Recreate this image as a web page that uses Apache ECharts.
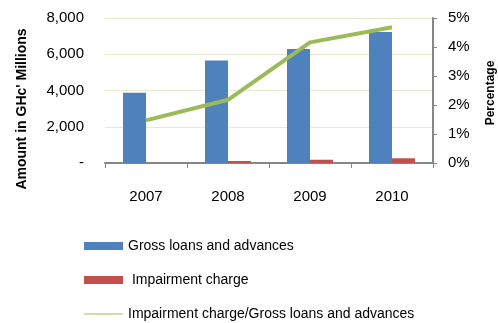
<!DOCTYPE html>
<html>
<head>
<meta charset="utf-8">
<script src="https://cdn.jsdelivr.net/npm/echarts@6/dist/echarts.min.js"></script>
<style>html,body{margin:0;padding:0;background:#fff}#c{width:498px;height:323px}</style>
</head>
<body>
<div id="c"></div>
<script>
var categories = ['2007', '2008', '2009', '2010'];
var grossLoans = [3880, 5650, 6290, 7230];
var impairment = [null, 110, 180, 260];
var ratio = [0.0147, 0.0218, 0.0416, 0.0468];
var leftTicks = ['-', '2,000', '4,000', '6,000', '8,000'];

var chart = echarts.init(document.getElementById('c'), null, {renderer: 'canvas'});
var FONT = 'Liberation Sans';
chart.setOption({
  animation: false,
  textStyle: {fontFamily: FONT},
  grid: {left: 105, right: 65, top: 18, bottom: 160, containLabel: false},
  legend: {
    orient: 'vertical', left: 84, top: 239, height: 120, padding: 0,
    itemWidth: 39, itemHeight: 8, itemGap: 20,
    textStyle: {fontFamily: FONT, fontSize: 14, color: '#000'},
    data: [
      {name: 'Gross loans and advances', icon: 'rect'},
      {name: ' Impairment charge', icon: 'rect'},
      {name: 'Impairment charge/Gross loans and advances', icon: 'path://M0,0 L39,0 L39,1 L0,1 Z'}
    ]
  },
  xAxis: {
    type: 'category', data: categories, boundaryGap: true,
    axisLine: {lineStyle: {color: '#868686', width: 2}},
    axisTick: {show: true, alignWithLabel: false, length: 5, lineStyle: {color: '#868686', width: 1}},
    axisLabel: {color: '#000', fontSize: 15, margin: 26, fontFamily: FONT}
  },
  yAxis: [
    {
      type: 'value', min: 0, max: 8000, interval: 2000,
      axisLine: {show: false}, axisTick: {show: false},
      splitLine: {lineStyle: {color: '#e6ebcf', width: 1}},
      axisLabel: {color: '#000', fontSize: 15, margin: 21, fontFamily: FONT,
        formatter: function (v) { return leftTicks[Math.round(v / 2000)]; }}
    },
    {
      type: 'value', min: 0, max: 0.05, interval: 0.01,
      axisLine: {show: true, lineStyle: {color: '#868686', width: 2}},
      axisTick: {show: true, length: 4, lineStyle: {color: '#868686'}},
      splitLine: {show: false},
      axisLabel: {color: '#000', fontSize: 15, margin: 15, fontFamily: FONT,
        formatter: function (v) { return Math.round(v * 100) + '%'; }}
    }
  ],
  series: [
    {name: 'Gross loans and advances', type: 'bar', data: grossLoans, barWidth: 23, barGap: '0%',
      itemStyle: {color: '#4f81bd'}},
    {name: ' Impairment charge', type: 'bar', data: impairment, barWidth: 23, barGap: '0%',
      itemStyle: {color: '#c0504d'}},
    {name: 'Impairment charge/Gross loans and advances', type: 'line', yAxisIndex: 1, data: ratio,
      symbol: 'none', lineStyle: {color: '#9bbb59', width: 4}, itemStyle: {color: '#9bbb59'}}
  ],
  graphic: [
    {type: 'text', x: 22, y: 109, rotation: Math.PI / 2,
      style: {text: "Amount in GHc' Millions", fontFamily: FONT, fontSize: 14, fontWeight: 'bold',
        fill: '#000', align: 'center', verticalAlign: 'middle'}},
    {type: 'text', x: 491, y: 93, rotation: Math.PI / 2,
      style: {text: 'Percentage', fontFamily: FONT, fontSize: 12, fontWeight: 'bold',
        fill: '#000', align: 'center', verticalAlign: 'middle'}}
  ]
});
</script>
</body>
</html>
